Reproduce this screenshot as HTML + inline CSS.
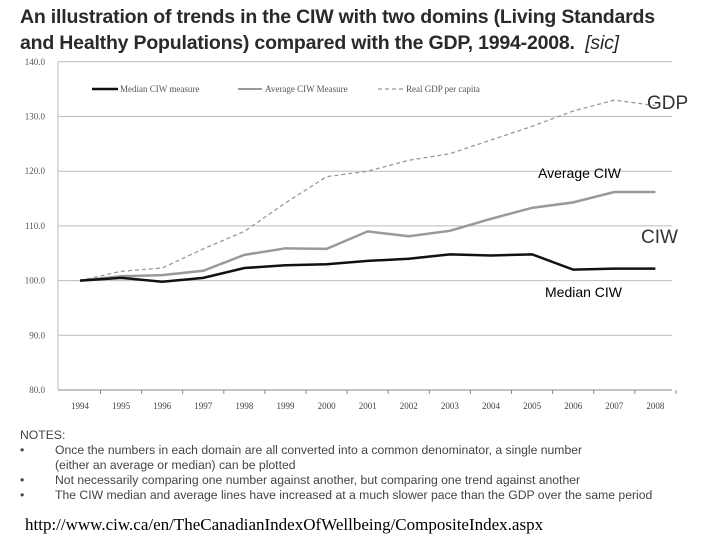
<!DOCTYPE html>
<html><head><meta charset="utf-8"><style>
body{margin:0;background:#fff;}
#wrap{position:relative;width:720px;height:540px;overflow:hidden;background:#fff;font-family:"Liberation Sans",sans-serif;}
.title{position:absolute;left:20px;top:4px;font-size:19.5px;font-weight:bold;color:#2a2a2a;line-height:26px;letter-spacing:-0.2px;}
.notes{position:absolute;left:20px;top:428px;font-size:12.2px;color:#444;line-height:15px;}
.url{position:absolute;left:25px;top:515px;font-family:"Liberation Serif",serif;font-size:17px;color:#000;}
.b{display:inline-block;width:35px}
</style></head><body>
<div id="wrap">
<div class="title">An illustration of trends in the CIW with two domins (Living Standards<br>and Healthy Populations) compared with the GDP, 1994-2008. &nbsp;<span style="font-weight:normal;font-style:italic">[sic]</span></div>
<svg id="chart" width="720" height="420" style="position:absolute;left:0;top:0"></svg>
<div class="notes">NOTES:<br>
<span class="b">•</span>Once the numbers in each domain are all converted into a common denominator, a single number<br>
<span class="b"></span>(either an average or median) can be plotted<br>
<span class="b">•</span>Not necessarily comparing one number against another, but comparing one trend against another<br>
<span class="b">•</span>The CIW median and average lines have increased at a much slower pace than the GDP over the same period</div>
<div class="url">http://www.ciw.ca/en/TheCanadianIndexOfWellbeing/CompositeIndex.aspx</div>
</div>
<script>
const years=[1994,1995,1996,1997,1998,1999,2000,2001,2002,2003,2004,2005,2006,2007,2008];
const median=[100,100.5,99.8,100.5,102.3,102.8,103,103.6,104,104.8,104.6,104.8,102,102.2,102.2];
const average=[100,100.8,101,101.8,104.7,105.9,105.8,109,108.1,109.1,111.3,113.3,114.3,116.2,116.2];
const gdp=[100,101.7,102.3,105.8,109,114.2,119,120,122,123.2,125.7,128.2,131,133,132];
const yTicks=[80,90,100,110,120,130,140];
const svg=document.getElementById('chart');
const NS='http://www.w3.org/2000/svg';
function x(i){return 80+i*41.1;}
function y(v){return 390-(v-80)*5.47;}
function mk(t,a,txt){const e=document.createElementNS(NS,t);for(const k in a)e.setAttribute(k,a[k]);if(txt!==undefined)e.textContent=txt;svg.appendChild(e);return e;}
yTicks.forEach(v=>{
 const l=mk('line',{x1:58,x2:672,y1:y(v),y2:y(v),stroke:v===80?'#888':'#bbb','stroke-width':1});
 
 
 const t=mk('text',{x:45,y:y(v)+3,'text-anchor':'end','font-size':9,fill:'#555','font-family':'Liberation Serif,serif'},v.toFixed(1));
 
 
});
mk('line',{x1:58,x2:58,y1:y(140),y2:y(80),stroke:'#bbb'});
years.forEach((yr,i)=>{
 mk('line',{x1:x(i)+20.5,x2:x(i)+20.5,y1:y(80),y2:y(80)+4,stroke:'#888'});
 const t=mk('text',{x:x(i),y:409,'text-anchor':'middle','font-size':9,fill:'#444','font-family':'Liberation Serif,serif'},yr);
 
 
});
function series(d,style,name){
 const p=mk('polyline',Object.assign({points:d.map((v,i)=>x(i)+','+y(v)).join(' '),fill:'none'},style));
 
 
}
series(gdp,{stroke:'#999','stroke-width':1.3,'stroke-dasharray':'4,3'},'gdp-line');
series(average,{stroke:'#999','stroke-width':2.5},'average-line');
series(median,{stroke:'#111','stroke-width':2.5},'median-line');
mk('line',{x1:92,x2:118,y1:89,y2:89,stroke:'#111','stroke-width':2.5});
mk('text',{x:120,y:92,'font-size':9,fill:'#555','font-family':'Liberation Serif,serif'},'Median CIW measure');
mk('line',{x1:238,x2:262,y1:89,y2:89,stroke:'#999','stroke-width':2});
mk('text',{x:265,y:92,'font-size':9,fill:'#555','font-family':'Liberation Serif,serif'},'Average CIW Measure');
mk('line',{x1:378,x2:403,y1:89,y2:89,stroke:'#999','stroke-width':1.3,'stroke-dasharray':'4,3'});
mk('text',{x:406,y:92,'font-size':9,fill:'#555','font-family':'Liberation Serif,serif'},'Real GDP per capita');
const a1=mk('text',{x:647,y:109,'font-size':19,fill:'#333'},'GDP');


const a2=mk('text',{x:538,y:178,'font-size':14,fill:'#000'},'Average CIW');


const a3=mk('text',{x:641,y:243,'font-size':19,fill:'#333'},'CIW');


const a4=mk('text',{x:545,y:297,'font-size':14,fill:'#000'},'Median CIW');


</script>
</body></html>
